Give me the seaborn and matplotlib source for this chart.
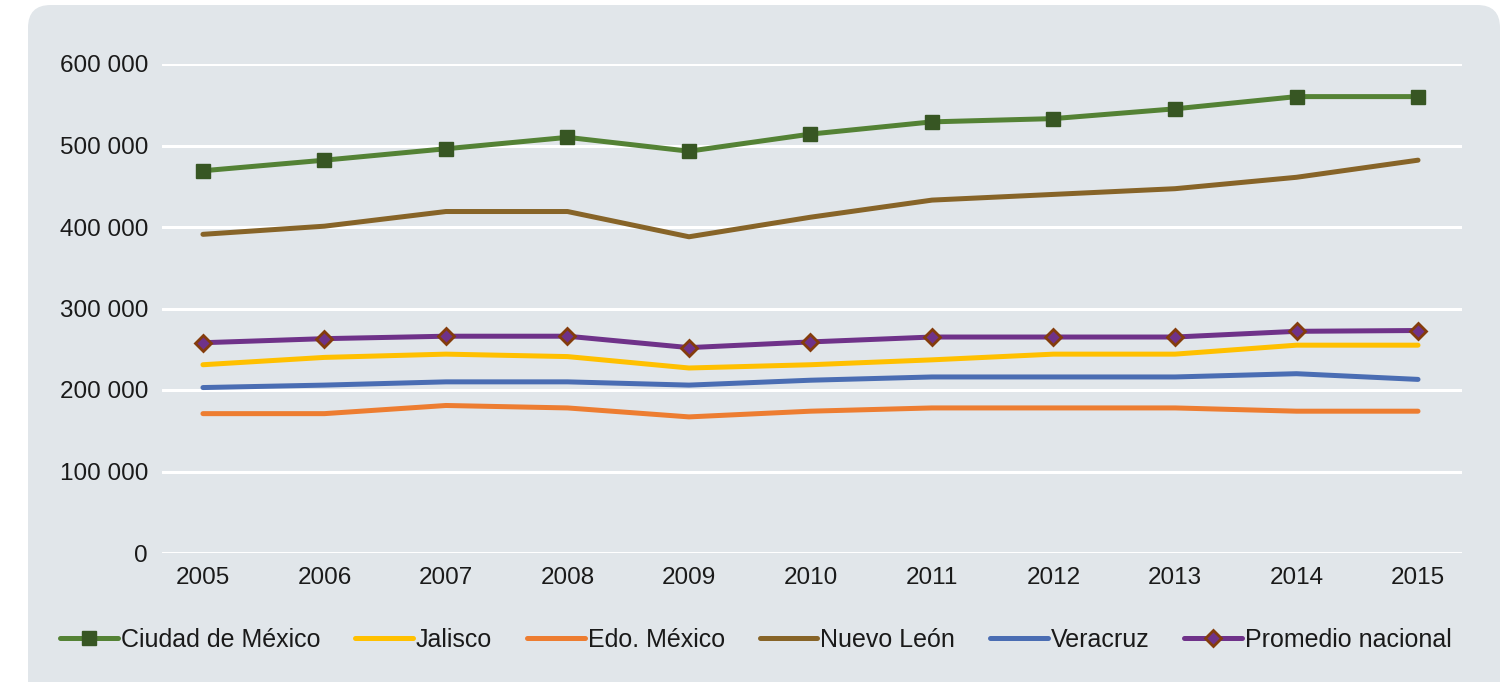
import matplotlib
matplotlib.use("Agg")
import matplotlib.pyplot as plt
from matplotlib.patches import FancyBboxPatch
import seaborn as sns
import pandas as pd

years = [2005, 2006, 2007, 2008, 2009, 2010, 2011, 2012, 2013, 2014, 2015]
cdmx = [469000, 482000, 496000, 510000, 493000, 514000, 529000, 533000, 545000, 560000, 560000]
jalisco = [231000, 240000, 244000, 241000, 227000, 231000, 237000, 244000, 244000, 255000, 255000]
edomex = [171000, 171000, 181000, 178000, 167000, 174000, 178000, 178000, 178000, 174000, 174000]
nuevo_leon = [391000, 401000, 419000, 419000, 388000, 412000, 433000, 440000, 447000, 461000, 482000]
veracruz = [203000, 206000, 210000, 210000, 206000, 212000, 216000, 216000, 216000, 220000, 213000]
promedio = [258000, 263000, 266000, 266000, 252000, 259000, 265000, 265000, 265000, 272000, 273000]

series_names = ["Ciudad de México", "Jalisco", "Edo. México", "Nuevo León", "Veracruz", "Promedio nacional"]
series_values = [cdmx, jalisco, edomex, nuevo_leon, veracruz, promedio]
yticks = [0, 100000, 200000, 300000, 400000, 500000, 600000]
ytick_labels = ["0", "100 000", "200 000", "300 000", "400 000", "500 000", "600 000"]

styles = {
    "Ciudad de México": dict(color="#548235", marker="s", mfc="#375623", mec="#375623", ms=10),
    "Jalisco": dict(color="#FFC000", marker=None),
    "Edo. México": dict(color="#ED7D31", marker=None),
    "Nuevo León": dict(color="#876428", marker=None),
    "Veracruz": dict(color="#4A6DB3", marker=None),
    "Promedio nacional": dict(color="#6F3289", marker="D", mfc="#6F3289", mec="#843C0C", ms=8, mew=2),
}

sns.set_theme(style="white")
plt.rcParams["font.family"] = ["Liberation Sans", "DejaVu Sans"]

bg = "#E1E6EA"
fig = plt.figure(figsize=(15.09, 6.82), dpi=100)
fig.patch.set_facecolor("white")
panel = FancyBboxPatch((28 / 1509, -0.05), (1500 - 28) / 1509, (682 - 5) / 682 + 0.05,
                       boxstyle="round,pad=0,rounding_size=0.015", transform=fig.transFigure,
                       facecolor=bg, edgecolor="none", zorder=-10, mutation_aspect=1509 / 682)
fig.patches.append(panel)

ax = fig.add_axes([162 / 1509, 1 - 553 / 682, (1462 - 162) / 1509, (553 - 64) / 682])
ax.set_zorder(2)
ax.patch.set_alpha(0)

for name, vals in zip(series_names, series_values):
    st = styles[name]
    df = pd.DataFrame({"year": years, "value": vals})
    sns.lineplot(data=df, x="year", y="value", ax=ax, color=st["color"], linewidth=3.6,
                 marker=st.get("marker"), markerfacecolor=st.get("mfc"), markeredgecolor=st.get("mec"),
                 markersize=st.get("ms", 0), markeredgewidth=st.get("mew", 1), label=name,
                 clip_on=False, zorder=3, solid_capstyle="round")

ax.set_ylim(0, 600000)
ax.set_xlim(2005 - 0.337, 2015 + 0.362)
ax.set_yticks(yticks)
ax.set_yticklabels(ytick_labels)
ax.set_xticks(years)
ax.set_xticklabels([str(y) for y in years])
ax.grid(axis="y", color="white", linewidth=2.2)
ax.grid(axis="x", visible=False)
ax.set_axisbelow(True)
for s in ax.spines.values():
    s.set_visible(False)
ax.tick_params(axis="both", length=0, labelsize=17.5, colors="#1a1a1a")
ax.tick_params(axis="y", pad=10)
ax.tick_params(axis="x", pad=10)
ax.set_xlabel("")
ax.set_ylabel("")

handles, labels = ax.get_legend_handles_labels()
if ax.get_legend():
    ax.get_legend().remove()
leg = fig.legend(handles, labels, loc="center", bbox_to_anchor=(0.501, 1 - 640 / 682), ncol=6,
                 frameon=False, fontsize=18, handlelength=2.3, handletextpad=0.12, columnspacing=1.4,
                 labelcolor="#1a1a1a")
leg.set_zorder(3)

fig.savefig("out.png", dpi=100, facecolor="white")
